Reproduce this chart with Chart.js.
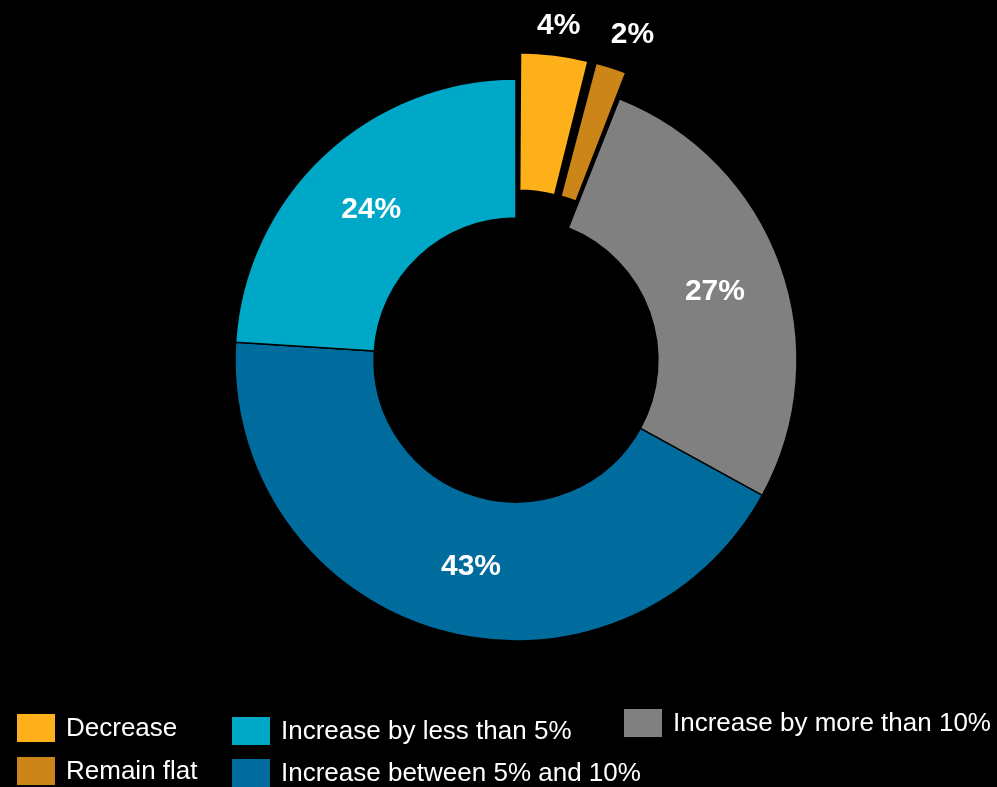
<!DOCTYPE html>
<html>
<head>
<meta charset="utf-8">
<title>Expectations</title>
<script src="https://cdn.jsdelivr.net/npm/chart.js@4"></script>
<style>
  html, body { margin: 0; padding: 0; background: #000; }
  canvas { display: block; }
</style>
</head>
<body>
<canvas id="donut" width="997" height="787"></canvas>
<script>
// DATA
const categorias = ['Decrease', 'Remain flat', 'Increase by more than 10%', 'Increase between 5% and 10%', 'Increase by less than 5%'];
const valores = [4, 2, 27, 43, 24];
const colores = ['#FDB019', '#CB8518', '#808080', '#006C9D', '#00A8C7'];
// pulled-out slices
const separacion = [62, 58, 0, 0, 0];

// where each legend entry sits (box top-left)
const legendSpots = [
  { x: 17, y: 714 },
  { x: 17, y: 757 },
  { x: 624, y: 709 },
  { x: 232, y: 759 },
  { x: 232, y: 717 }
];
// small hand nudges for the percent labels
const labelNudge = [[0, 0], [11, -5], [0, 0], [14, 0], [0, 0]];

// percent labels on (or above) each slice
const etiquetas = {
  id: 'etiquetas',
  afterDatasetsDraw(chart) {
    const ctx = chart.ctx;
    const meta = chart.getDatasetMeta(0);
    ctx.save();
    ctx.fillStyle = '#fff';
    ctx.font = 'bold 30px "Liberation Sans", Arial, sans-serif';
    ctx.textAlign = 'center';
    ctx.textBaseline = 'alphabetic';
    meta.data.forEach((arc, i) => {
      const mid = (arc.startAngle + arc.endAngle) / 2;
      let r = (arc.innerRadius + arc.outerRadius) / 2;
      if (separacion[i] > 0) r = arc.outerRadius + 60;
      const x = arc.x + Math.cos(mid) * r + labelNudge[i][0];
      const y = arc.y + Math.sin(mid) * r + labelNudge[i][1];
      ctx.fillText(valores[i] + '%', x, y + 12);
    });
    ctx.restore();
  }
};

// legend in three loose columns under the ring
const leyenda = {
  id: 'leyenda',
  afterDraw(chart) {
    const ctx = chart.ctx;
    ctx.save();
    ctx.font = '26px "Liberation Sans", Arial, sans-serif';
    ctx.textBaseline = 'middle';
    ctx.textAlign = 'left';
    categorias.forEach((nombre, i) => {
      const p = legendSpots[i];
      ctx.fillStyle = colores[i];
      ctx.fillRect(p.x, p.y, 38, 28);
      ctx.fillStyle = '#fff';
      ctx.fillText(nombre, p.x + 49, p.y + 15);
    });
    ctx.restore();
  }
};

const ctx = document.getElementById('donut').getContext('2d');
const grafico = new Chart(ctx, {
  type: 'doughnut',
  data: {
    labels: categorias,
    datasets: [{
      data: valores,
      backgroundColor: colores,
      borderColor: '#000',
      borderWidth: [3, 3, 1.5, 1.5, 1.5],
      offset: separacion
    }]
  },
  options: {
    responsive: false,
    animation: false,
    radius: 281,
    cutout: '50.5%',
    layout: { padding: { left: 35, right: 0, top: 0, bottom: 67 } },
    plugins: {
      legend: { display: false },
      tooltip: { enabled: false }
    }
  },
  plugins: [etiquetas, leyenda]
});
</script>
</body>
</html>
